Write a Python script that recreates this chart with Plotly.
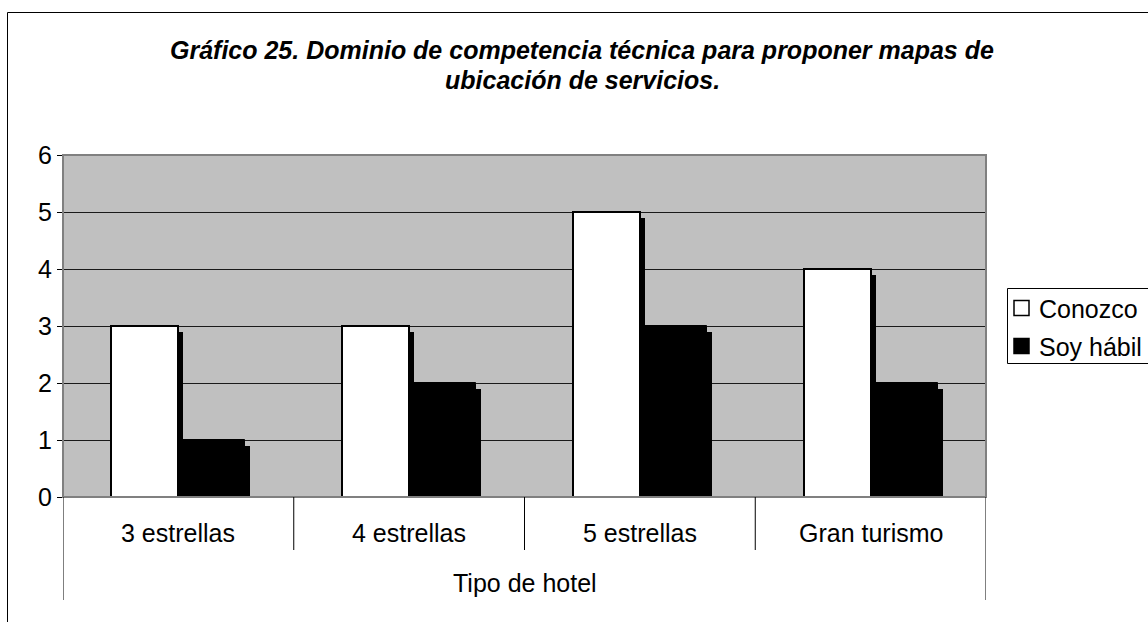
import plotly.graph_objects as go

# Datos del gráfico
categorias = ["3 estrellas", "4 estrellas", "5 estrellas", "Gran turismo"]
conozco = [3, 3, 5, 4]
soy_habil = [1, 2, 3, 2]
series = ["Conozco", "Soy hábil"]
colores = ["#FFFFFF", "#000000"]
titulo = ["Gráfico 25. Dominio de competencia técnica para proponer mapas de",
          "ubicación de servicios."]
eje_x_titulo = "Tipo de hotel"
y_ticks = [0, 1, 2, 3, 4, 5, 6]

FONT = "Liberation Sans, Arial, sans-serif"
FS = 25

# Geometría de la figura (px)
W, H = 1148, 622
L, R, T, B = 63, 162, 155, 125
plot_w = W - L - R
plot_h = H - T - B

bar_w = 0.29
shadow_dx = 5 / (plot_w / len(categorias))   # 5 px a la derecha
shadow_dy = 6 / (plot_h / 6)                 # 6 px hacia abajo


def px_x(px):
    return (px - L) / plot_w


def px_y(py):
    return (H - B - py) / plot_h


fig = go.Figure()

# Sombras de las barras
for vals, off in [(conozco, -bar_w), (soy_habil, 0.0)]:
    fig.add_trace(go.Bar(
        x=categorias, y=[v - shadow_dy for v in vals],
        offset=off + shadow_dx, width=bar_w,
        marker=dict(color="#000000", line=dict(width=0)),
        showlegend=False, hoverinfo="skip"))

# Barras principales
for vals, off, name, col, lw in [(conozco, -bar_w, series[0], colores[0], 2),
                                  (soy_habil, 0.0, series[1], colores[1], 1)]:
    fig.add_trace(go.Bar(
        x=categorias, y=vals, name=name,
        offset=off, width=bar_w,
        marker=dict(color=col, line=dict(color="#000000", width=lw)),
        showlegend=False))

shapes = []
# Borde del área de trazado
shapes.append(dict(type="rect", xref="paper", yref="paper", x0=0, x1=1, y0=0, y1=1,
                   line=dict(color="#808080", width=2), layer="above"))
# Separadores de categorías
for i in range(len(categorias) - 1):
    shapes.append(dict(type="line", xref="x", yref="paper", x0=i + 0.5, x1=i + 0.5,
                       y0=0, y1=px_y(550), line=dict(color="#000000", width=1)))
# Líneas exteriores del eje de categorías
for xv in [-0.5, len(categorias) - 0.5]:
    shapes.append(dict(type="line", xref="x", yref="paper", x0=xv, x1=xv,
                       y0=0, y1=px_y(600), line=dict(color="#000000", width=1)))
# Marco del gráfico
shapes.append(dict(type="rect", xref="paper", yref="paper",
                   x0=px_x(7.5), x1=px_x(W + 20), y0=px_y(12.5), y1=px_y(H + 20),
                   line=dict(color="#000000", width=1), layer="below"))
# Marco de la leyenda
shapes.append(dict(type="rect", xref="paper", yref="paper",
                   x0=px_x(1007.5), x1=px_x(W + 20), y0=px_y(288.5), y1=px_y(363.5),
                   line=dict(color="#000000", width=1), fillcolor="#FFFFFF", layer="below"))

annotations = []
# Etiquetas de categorías
for i, c in enumerate(categorias):
    annotations.append(dict(x=i, y=px_y(533), xref="x", yref="paper", text=c,
                            showarrow=False, font=dict(family=FONT, size=FS, color="#000"),
                            xanchor="center", yanchor="middle"))
# Título del eje de categorías
annotations.append(dict(x=(len(categorias) - 1) / 2, y=px_y(583), xref="x", yref="paper",
                        text=eje_x_titulo, showarrow=False,
                        font=dict(family=FONT, size=FS, color="#000"),
                        xanchor="center", yanchor="middle"))
# Título del gráfico
for line, ypx in zip(titulo, [50, 80]):
    annotations.append(dict(x=px_x(582), y=px_y(ypx), xref="paper", yref="paper",
                            text=f"<b><i>{line}</i></b>", showarrow=False,
                            font=dict(family=FONT, size=25, color="#000"),
                            xanchor="center", yanchor="middle"))
# Leyenda: clave cuadrada + nombre de la serie
for name, col, ypx in zip(series, colores, [308, 346]):
    shapes.append(dict(type="rect", xref="paper", yref="paper",
                       x0=px_x(1014), x1=px_x(1029), y0=px_y(ypx - 7.5), y1=px_y(ypx + 7.5),
                       line=dict(color="#000000", width=1.5), fillcolor=col, layer="above"))
    annotations.append(dict(x=px_x(1037), y=px_y(ypx + 1), xref="paper", yref="paper",
                            text=name, showarrow=False,
                            font=dict(family=FONT, size=FS, color="#000"),
                            xanchor="left", yanchor="middle"))

fig.update_layout(
    width=W, height=H,
    margin=dict(l=L, r=R, t=T, b=B, pad=0),
    paper_bgcolor="#FFFFFF",
    plot_bgcolor="#C0C0C0",
    barmode="overlay",
    bargap=0,
    showlegend=False,
    shapes=shapes,
    annotations=annotations,
    font=dict(family=FONT, size=FS, color="#000"),
)

fig.update_xaxes(range=[-0.5, len(categorias) - 0.5], showticklabels=False,
                 showgrid=False, zeroline=False, showline=False, ticks="")
fig.update_yaxes(range=[0, 6], tickvals=y_ticks, ticktext=[str(t) for t in y_ticks],
                 showgrid=True, gridcolor="#1a1a1a", gridwidth=1,
                 zeroline=False, showline=True, linecolor="#000000", linewidth=1,
                 ticks="outside", ticklen=5, tickcolor="#000000",
                 tickfont=dict(family=FONT, size=FS, color="#000"))

fig.write_html("out.html")
